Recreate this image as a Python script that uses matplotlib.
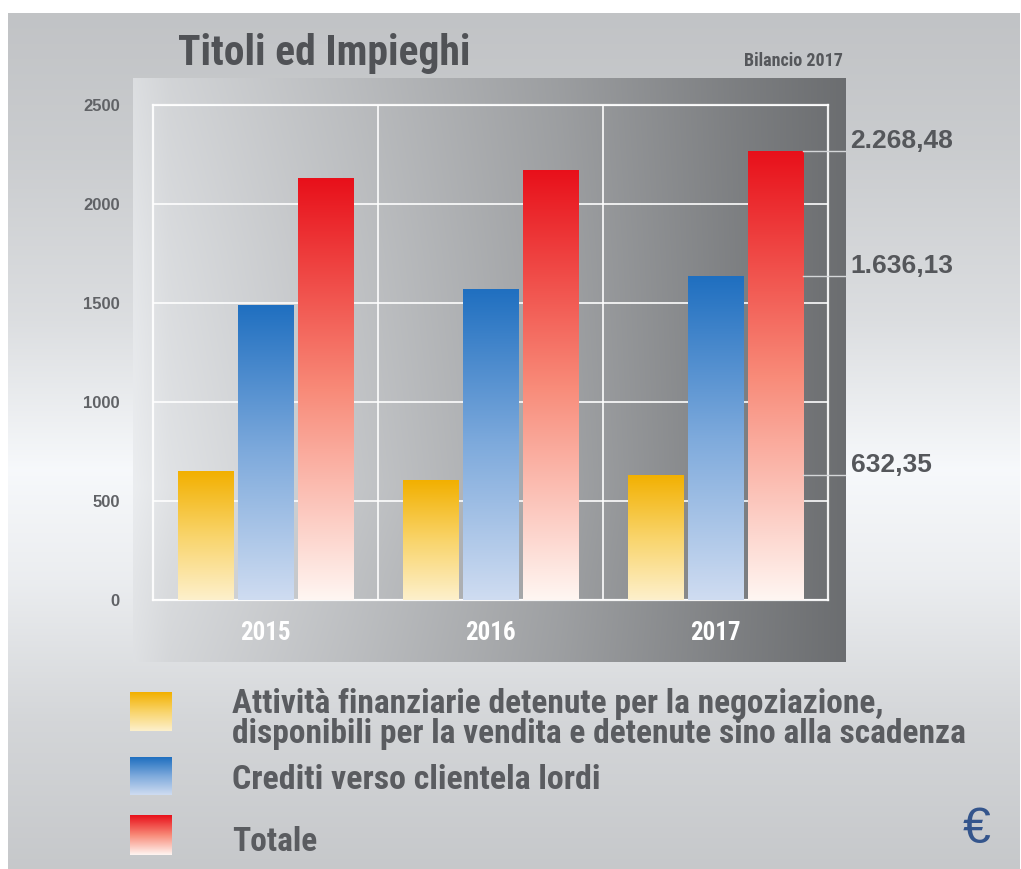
import os
import numpy as np
import matplotlib
matplotlib.use("Agg")
import matplotlib.pyplot as plt
from matplotlib import font_manager
from matplotlib.font_manager import FontProperties
from matplotlib.colors import LinearSegmentedColormap
from matplotlib.patches import Rectangle

# ---------------- data ----------------
years = ["2015", "2016", "2017"]
attivita = [651, 606, 632.35]
crediti = [1490, 1571, 1636.13]
totale = [2131, 2172, 2268.48]
labels_2017 = ["632,35", "1.636,13", "2.268,48"]
serie = [
    "Attività finanziarie detenute per la negoziazione,\n"
    "disponibili per la vendita e detenute sino alla scadenza",
    "Crediti verso clientela lordi",
    "Totale",
]
yticks = [0, 500, 1000, 1500, 2000, 2500]


# ---------------- fonts ----------------
def find_font(keys):
    for key in keys:
        for f in font_manager.fontManager.ttflist:
            base = os.path.basename(f.fname).lower()
            norm = base.replace("-", "").replace("_", "").replace(" ", "")
            if key in norm and "italic" not in norm and "oblique" not in norm:
                return f.fname
    return None


cond_path = find_font(["liberationsansnarrowbold", "robotocondensedbold",
                       "notosanscondensedbold", "dejavusanscondensedbold",
                       "opensanscondensedbold", "notosanssemicondensedbold"])
if cond_path is None:
    cond_path = font_manager.findfont(FontProperties(family="DejaVu Sans", weight="bold"))
helv_path = font_manager.findfont(FontProperties(family="Liberation Sans", weight="bold"))
helv_reg = font_manager.findfont(FontProperties(family="Liberation Sans"))


def cond(size):
    return FontProperties(fname=cond_path, size=size)


def helv(size):
    return FontProperties(fname=helv_path, size=size)


# ---------------- colormaps ----------------
cm_yellow = LinearSegmentedColormap.from_list("y", ["#fdf0cc", "#f9d46a", "#f2b000"])
cm_blue = LinearSegmentedColormap.from_list("b", ["#cfdcf1", "#7eaadc", "#1f6fc0"])
cm_red = LinearSegmentedColormap.from_list("r", ["#fff6f2", "#f88a78", "#e8101a"])
cmaps = [cm_yellow, cm_blue, cm_red]

W, H = 1021, 869
fig = plt.figure(figsize=(W / 100, H / 100), dpi=100)
fig.patch.set_facecolor("white")

# background axes in pixel coordinates
ax_bg = fig.add_axes([0, 0, 1, 1], zorder=0)
ax_bg.set_xlim(0, W)
ax_bg.set_ylim(H, 0)
ax_bg.axis("off")

# outer vertical gradient
yy = np.linspace(13, H, 400)
gv = np.interp(yy, [13, 150, 320, 470, 580, 720, 869],
               [0.765, 0.80, 0.87, 0.975, 0.93, 0.84, 0.785])
bg = np.dstack([gv - 0.008, gv, gv + 0.01]).reshape(-1, 1, 3)
ax_bg.imshow(np.clip(bg, 0, 1), extent=(8, 1019, H, 13), origin="upper",
             aspect="auto", interpolation="bicubic", zorder=0)

# dark panel with horizontal gradient
nx, ny = 300, 200
xs = np.linspace(0, 1, nx)
ys = np.linspace(0, 1, ny)
hx = np.interp(xs, [0, 0.05, 0.3, 0.6, 0.85, 1], [0.90, 0.86, 0.76, 0.63, 0.50, 0.43])
vy = np.interp(ys, [0, 0.3, 0.7, 0.85, 1], [-0.03, 0.0, 0.03, 0.0, -0.02])
pan = hx[None, :] + vy[:, None] * (1 - xs[None, :])
panel = np.dstack([pan - 0.008, pan, pan + 0.01])
ax_bg.imshow(np.clip(panel, 0, 1), extent=(133, 845, 662, 78), origin="upper",
             aspect="auto", interpolation="bicubic", zorder=1)

# ---------------- main axes ----------------
ax = fig.add_axes([153 / W, (H - 600) / H, 675 / W, 495 / H], zorder=2)
ax.set_facecolor("none")

n = len(years)
centers = np.arange(n) + 0.5
offs = [-0.265, 0.0, 0.265]
bw = 0.245
for vals, off, cm in zip([attivita, crediti, totale], offs, cmaps):
    bars = ax.bar(centers + off, vals, bw, color="none", edgecolor="none", zorder=3)
    for b in bars:
        g = np.linspace(0, 1, 256).reshape(-1, 1)
        im = ax.imshow(g, extent=(b.get_x(), b.get_x() + b.get_width(), 0, b.get_height()),
                       origin="lower", aspect="auto", cmap=cm, zorder=3,
                       interpolation="bicubic")
        im.set_clip_path(b)

ax.set_xlim(0, n)
ax.set_ylim(0, 2500)
ax.set_yticks(yticks)
ax.set_yticklabels([str(t) for t in yticks])
ax.set_xticks(centers)
ax.set_xticklabels(years)
ax.set_xticks([1, 2], minor=True)
ax.tick_params(axis="both", which="both", length=0)
ax.tick_params(axis="y", pad=24, colors="#606266")
ax.tick_params(axis="x", pad=15, colors="white")
for lbl in ax.get_yticklabels():
    lbl.set_fontproperties(helv(12))
for lbl in ax.get_xticklabels():
    lbl.set_fontproperties(cond(18))

ax.set_axisbelow(True)
ax.yaxis.grid(True, color="white", lw=1.3, alpha=0.9)
ax.xaxis.grid(True, which="minor", color="white", lw=1.3, alpha=0.9)
for sp in ax.spines.values():
    sp.set_color("white")
    sp.set_linewidth(1.6)
    sp.set_alpha(0.9)

# value labels for the last year
last = [attivita[-1], crediti[-1], totale[-1]]
for v, txt in zip(last, labels_2017):
    ax.plot([2.89, 3.075], [v, v], color="#d4d6d8", lw=1.0, clip_on=False, zorder=4)
    ax.annotate(txt, xy=(3.1, v), xytext=(0, 7), textcoords="offset points",
                ha="left", va="center", color="#55575b", fontproperties=helv(19),
                annotation_clip=False)

# ---------------- texts ----------------
renderer = fig.canvas.get_renderer()


def fit(t, target_w, size, max_size=None):
    bb = t.get_window_extent(renderer)
    new = size * target_w / bb.width
    if max_size is not None:
        new = min(new, max_size)
    t.set_fontsize(new)
    return new


t_title = ax_bg.text(178, 54, "Titoli ed Impieghi", ha="left", va="center",
                     color="#505256", fontproperties=cond(34), zorder=5)
fit(t_title, 292, 34, 36)
t_bil = ax_bg.text(843, 61, "Bilancio 2017", ha="right", va="center",
                   color="#55575b", fontproperties=cond(11), zorder=5)
fit(t_bil, 118, 11, 13)

# legend
sq_y = [(692, 731), (757, 795), (815, 855)]
for (y0, y1), cm in zip(sq_y, cmaps):
    ax_bg.add_patch(Rectangle((130, y0), 42, y1 - y0, facecolor="none", edgecolor="none"))
    g = np.linspace(0, 1, 128).reshape(-1, 1)
    ax_bg.imshow(g, extent=(130, 172, y1, y0), origin="lower", aspect="auto",
                 cmap=cm, zorder=5, interpolation="bicubic")

leg_col = "#5a5c60"
first_lines = serie[0].split("\n")
t1 = ax_bg.text(232, 704, first_lines[0], ha="left", va="center", color=leg_col,
                fontproperties=cond(22), zorder=5)
t2 = ax_bg.text(232, 734, first_lines[1], ha="left", va="center", color=leg_col,
                fontproperties=cond(22), zorder=5)
s = fit(t2, 743, 22, 24)
t1.set_fontsize(s)
t3 = ax_bg.text(232, 780, serie[1], ha="left", va="center", color=leg_col,
                fontproperties=cond(22), zorder=5)
fit(t3, 368, 22, 24.5)
t4 = ax_bg.text(232, 842, serie[2], ha="left", va="center", color=leg_col,
                fontproperties=cond(s), zorder=5)

ax_bg.text(977, 830, "€", ha="center", va="center", color="#34558c",
           fontproperties=FontProperties(fname=helv_reg, size=36), zorder=5)

fig.savefig("out.png", dpi=100, facecolor=fig.get_facecolor())
